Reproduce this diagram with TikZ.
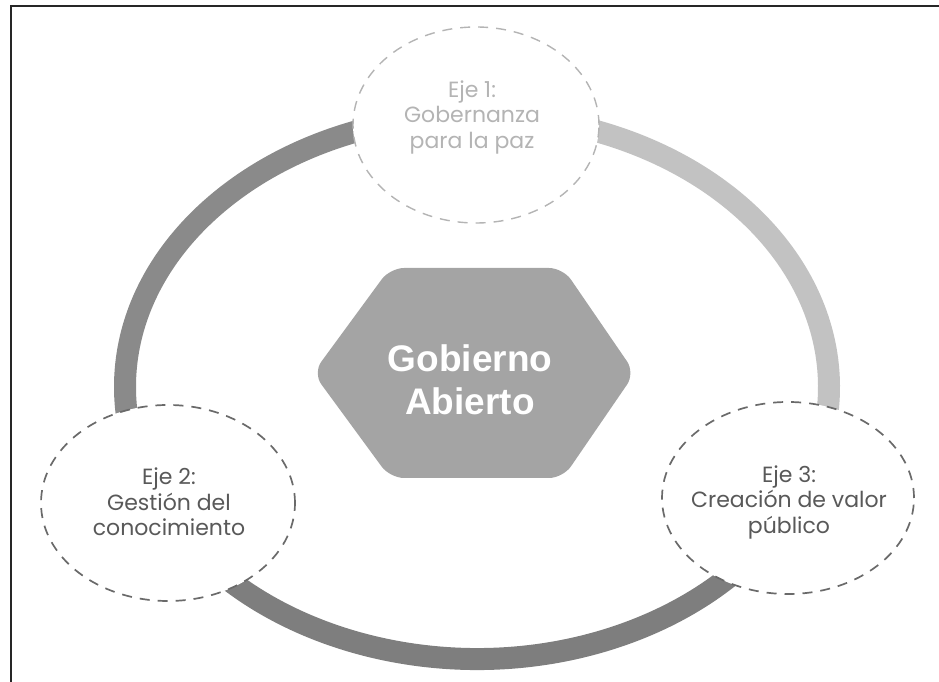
\documentclass[tikz,border=0pt]{standalone}
\usepackage{fontspec}
\setmainfont{Poppins}
\newfontfamily\hexfont{Liberation Sans}
\usetikzlibrary{shapes.geometric}
\begin{document}
\begin{tikzpicture}[x=1pt,y=1pt,
  ringseg/.style={line width=22pt},
  ejecircle/.style={draw, fill=white, dashed, dash pattern=on 10pt off 8pt, line width=1.7pt},
  ejetext/.style={align=center, font=\fontsize{22}{25.5}\selectfont},
]
\useasboundingbox (0,0) rectangle (939,682);
\definecolor{leftarc}{HTML}{8A8A8A}
\definecolor{bottomarc}{HTML}{7E7E7E}
\definecolor{rightarc}{HTML}{C2C2C2}
\definecolor{hexgray}{HTML}{A4A4A4}
\definecolor{lightdash}{HTML}{B4B4B4}
\definecolor{darkdash}{HTML}{6A6A6A}
% frame (top and left only)
\coordinate (fbl) at (11,0);
\coordinate (ftl) at (11,676);
\coordinate (ftr) at (939,676);
\draw[line width=1.5pt, black!85] (fbl) -- (ftl) -- (ftr);
% ellipse centre
\coordinate (oc) at (477,295);
% ring segments
\draw[ringseg, leftarc] (oc) ++(90:352 and 272) arc[start angle=90, end angle=206, x radius=352, y radius=272];
\draw[ringseg, bottomarc] (oc) ++(206:352 and 272) arc[start angle=206, end angle=335, x radius=352, y radius=272];
\draw[ringseg, rightarc] (oc) ++(335:352 and 272) arc[start angle=335, end angle=450, x radius=352, y radius=272];
% hexagon
\fill[hexgray, rounded corners=14pt] (313,309) -- (390,414) -- (563,414) -- (635,309) -- (563,204) -- (390,204) -- cycle;
\node[align=center, text=white, font=\hexfont\bfseries\fontsize{37}{43}\selectfont] (hex) at (470,302) {Gobierno\\Abierto};
% eje circles
\node[ejecircle, draw=lightdash, line width=1.4pt, ellipse, minimum width=246pt, minimum height=196pt, inner sep=0pt] (e1) at (476,557) {};
\node[ejecircle, draw=darkdash, ellipse, minimum width=254pt, minimum height=196pt, inner sep=0pt] (e2) at (168,179) {};
\node[ejecircle, draw=darkdash, ellipse, minimum width=252pt, minimum height=192pt, inner sep=0pt] (e3) at (788,184) {};
\node[ejetext, text=lightdash] (t1) at (472,565) {Eje 1:\\Gobernanza\\para la paz};
\node[ejetext, text=black!65] (t2) at (169,180) {Eje 2:\\Gestión del\\conocimiento};
\node[ejetext, text=black!65] (t3) at (789,180) {Eje 3:\\Creación de valor\\público};
\end{tikzpicture}
\end{document}
